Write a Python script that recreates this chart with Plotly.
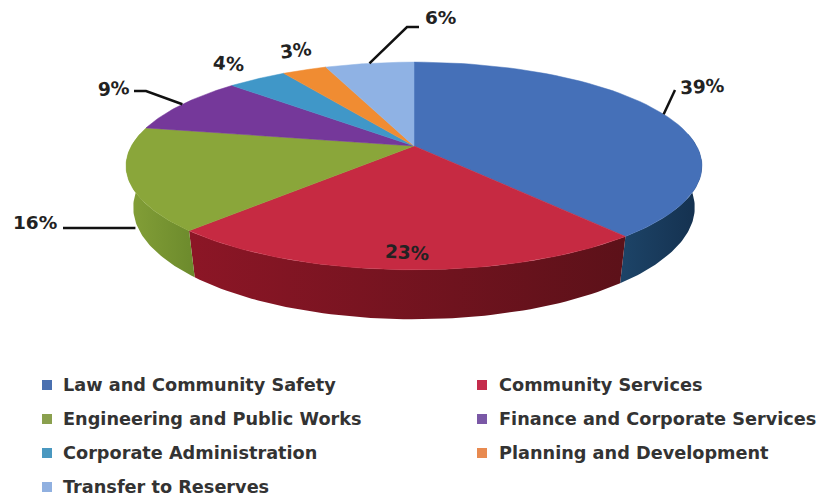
import math
import plotly.graph_objects as go

categories = ["Law and Community Safety", "Community Services", "Engineering and Public Works",
              "Finance and Corporate Services", "Corporate Administration",
              "Planning and Development", "Transfer to Reserves"]
shares = [39, 23, 16, 9, 4, 3, 6]
labels = ["39%", "23%", "16%", "9%", "4%", "3%", "6%"]

top_colors = ["#4570b8", "#c62a42", "#8aa63a", "#75389a", "#4097c8", "#f08c32", "#8fb2e4"]
wall_colors = [("#1d4468", "#14304e"), ("#8c1626", "#5c1119"), ("#84a038", "#6c8a2c"),
               ("#5a2a78", "#5a2a78"), ("#2f7698", "#2f7698"), ("#b86a20", "#b86a20"),
               ("#6f8cb8", "#6f8cb8")]
legend_colors = ["#4a70b0", "#c42c4c", "#8aa04e", "#7a58a6", "#4a98c0", "#e88a50", "#90b0e0"]

# Tilted disc: a unit circle seen through a perspective divide, plus a drop for the lower rim.
CX, CY = 414, 146
RX, RY = 282.6, 100
PERSP = 0.192
DROP = 40
INSET = 0.975


def project(frac, lower=False):
    theta = 2 * math.pi * frac
    u, v = math.sin(theta), math.cos(theta)
    w = 1 + PERSP * v
    scale = INSET if lower else 1
    px = CX + RX * u / w * scale
    py = CY - RY * v / w + (DROP / w if lower else 0)
    return px, py


def arc(f0, f1, lower=False, n=60):
    return [project(f0 + (f1 - f0) * i / n, lower) for i in range(n + 1)]


bounds = [0]
for s in shares:
    bounds.append(bounds[-1] + s / sum(shares))

fig = go.Figure()

# Outer walls first, so the top faces hide whatever lies behind the disc.
for i, name in enumerate(categories):
    f0, f1 = bounds[i], bounds[i + 1]
    if f1 < 0.25 or f0 > 0.77:
        continue
    front0 = max(f0, 0.23)
    front1 = min(f1, 0.77)
    upper = arc(front0, front1)
    lower = arc(front0, front1, True)[::-1]
    pts = upper + lower + upper[:1]
    fig.add_trace(go.Scatter(
        x=[p[0] for p in pts], y=[p[1] for p in pts], mode="lines",
        line=dict(width=0), fill="toself",
        fillgradient=dict(type="horizontal",
                          colorscale=[[0, wall_colors[i][0]], [1, wall_colors[i][1]]]),
        hoverinfo="skip", showlegend=False))

for i, name in enumerate(categories):
    pts = [(CX, CY)] + arc(bounds[i], bounds[i + 1]) + [(CX, CY)]
    fig.add_trace(go.Scatter(
        x=[p[0] for p in pts], y=[p[1] for p in pts], mode="lines",
        line=dict(width=0.5, color=top_colors[i]), fill="toself", fillcolor=top_colors[i],
        name=name, hoverinfo="name", showlegend=False))

# Leader lines run from the middle of a slice's rim to its label.
leader_ends = {0: [(675, 90)], 2: [(63, 228)], 3: [(146, 91), (134, 91)], 6: [(407, 27), (419, 27)]}
for i, tail in leader_ends.items():
    mid = (bounds[i] + bounds[i + 1]) / 2
    if i == 2:
        sx, sy = project(mid, True)
        start = (sx, 228)
    else:
        start = project(mid)
    pts = [start] + tail
    fig.add_trace(go.Scatter(
        x=[p[0] for p in pts], y=[p[1] for p in pts], mode="lines",
        line=dict(color="#111111", width=2.5), hoverinfo="skip", showlegend=False))

label_spots = [(702, 86), (407, 252), (35, 222), (113, 88), (228, 63), (295, 50), (440, 17)]
label_tilts = [-3, 3, 0, -4, 5, -7, 0]
annotations = []
for text, (lx, ly), tilt in zip(labels, label_spots, label_tilts):
    annotations.append(dict(x=lx, y=ly, xref="x", yref="y", text=text, showarrow=False,
                            xanchor="center", yanchor="middle", textangle=tilt,
                            font=dict(family="DejaVu Sans", size=18.5, weight="bold", color="#222222")))

# Two-column key under the disc.
key_cols = [(47, 61), (482, 497)]
key_rows = [385, 419, 453, 487]
for i, name in enumerate(categories):
    col = key_cols[i % 2]
    row = key_rows[i // 2]
    fig.add_trace(go.Scatter(
        x=[col[0]], y=[row], mode="markers",
        marker=dict(symbol="square", size=10, color=legend_colors[i]),
        hoverinfo="skip", showlegend=False))
    annotations.append(dict(x=col[1], y=row, xref="x", yref="y", text=name, showarrow=False,
                            xanchor="left", yanchor="middle",
                            font=dict(family="DejaVu Sans", size=17.7, weight="bold", color="#333333")))

fig.update_layout(
    width=817, height=496, margin=dict(l=0, r=0, t=0, b=0),
    paper_bgcolor="white", plot_bgcolor="white", showlegend=False,
    xaxis=dict(range=[0, 817], visible=False, fixedrange=True),
    yaxis=dict(range=[496, 0], visible=False, fixedrange=True),
    annotations=annotations,
)

fig.write_html("out.html", config={"displayModeBar": False})
